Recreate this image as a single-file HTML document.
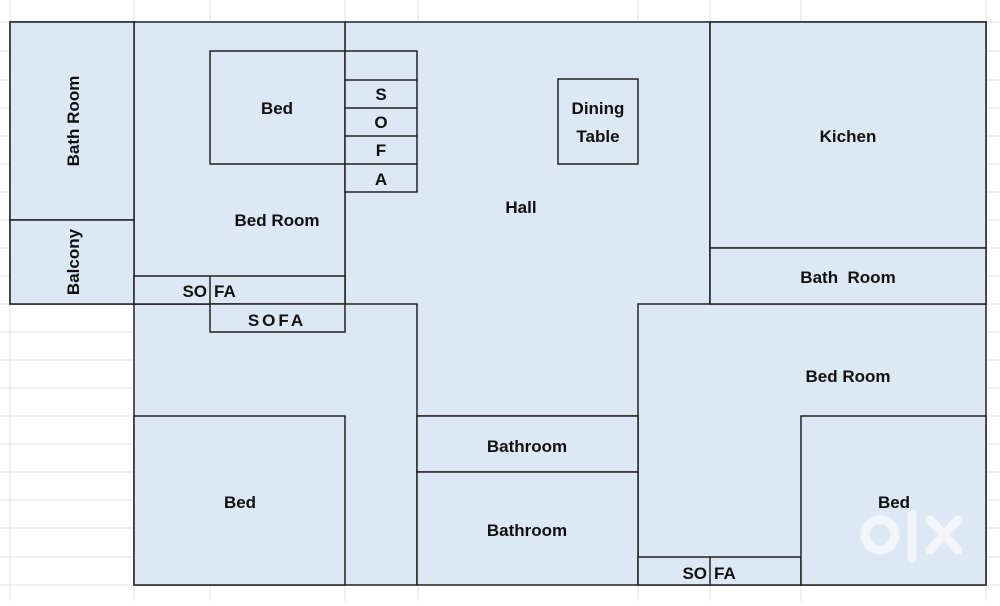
<!DOCTYPE html>
<html><head><style>
body{margin:0;background:#fff}
svg text{font-family:"Liberation Sans",sans-serif;font-weight:bold;font-size:17px;fill:#111}
</style></head><body>
<svg width="1000" height="601" viewBox="0 0 1000 601" xmlns="http://www.w3.org/2000/svg">
<g stroke="#e2e2e2" stroke-width="1">
<line x1="10" y1="0" x2="10" y2="601"/><line x1="134" y1="0" x2="134" y2="601"/><line x1="210" y1="0" x2="210" y2="601"/><line x1="345" y1="0" x2="345" y2="601"/><line x1="418" y1="0" x2="418" y2="601"/><line x1="638" y1="0" x2="638" y2="601"/><line x1="710" y1="0" x2="710" y2="601"/><line x1="801" y1="0" x2="801" y2="601"/><line x1="986" y1="0" x2="986" y2="601"/>
<line x1="0" y1="22" x2="1000" y2="22"/><line x1="0" y1="51" x2="1000" y2="51"/><line x1="0" y1="80" x2="1000" y2="80"/><line x1="0" y1="108" x2="1000" y2="108"/><line x1="0" y1="136" x2="1000" y2="136"/><line x1="0" y1="164" x2="1000" y2="164"/><line x1="0" y1="192" x2="1000" y2="192"/><line x1="0" y1="220" x2="1000" y2="220"/><line x1="0" y1="248" x2="1000" y2="248"/><line x1="0" y1="276" x2="1000" y2="276"/><line x1="0" y1="304" x2="1000" y2="304"/><line x1="0" y1="332" x2="1000" y2="332"/><line x1="0" y1="360" x2="1000" y2="360"/><line x1="0" y1="388" x2="1000" y2="388"/><line x1="0" y1="416" x2="1000" y2="416"/><line x1="0" y1="444" x2="1000" y2="444"/><line x1="0" y1="472" x2="1000" y2="472"/><line x1="0" y1="500" x2="1000" y2="500"/><line x1="0" y1="528" x2="1000" y2="528"/><line x1="0" y1="557" x2="1000" y2="557"/><line x1="0" y1="585" x2="1000" y2="585"/>
</g>
<g fill="#dce8f4" stroke="#222" stroke-width="1.5">
<rect x="10" y="22" width="124" height="282"/>
<rect x="345" y="22" width="365" height="394"/>
<rect x="134" y="304" width="283" height="281"/>
<rect x="710" y="22" width="276" height="282"/>
<rect x="638" y="304" width="348" height="281"/>
<rect x="134" y="22" width="211" height="282"/>
<rect x="10" y="22" width="124" height="198"/>
<rect x="10" y="220" width="124" height="84"/>
<rect x="134" y="276" width="211" height="28"/>
<rect x="210" y="51" width="135" height="113"/>
<rect x="345" y="51" width="72" height="141"/>
<rect x="210" y="304" width="135" height="28"/>
<rect x="558" y="79" width="80" height="85"/>
<rect x="134" y="416" width="211" height="169"/>
<rect x="417" y="416" width="221" height="56"/>
<rect x="417" y="472" width="221" height="113"/>
<rect x="710" y="22" width="276" height="226"/>
<rect x="710" y="248" width="276" height="56"/>
<rect x="638" y="557" width="163" height="28"/>
<rect x="801" y="416" width="185" height="169"/>
</g>
<g stroke="#222" stroke-width="1.5">
<line x1="345" y1="80" x2="417" y2="80"/><line x1="345" y1="108" x2="417" y2="108"/><line x1="345" y1="136" x2="417" y2="136"/><line x1="345" y1="164" x2="417" y2="164"/>
<line x1="210" y1="276" x2="210" y2="304"/><line x1="710" y1="557" x2="710" y2="585"/>
</g>
<g fill="#dce8f4"><rect x="346" y="193" width="71" height="110"/></g>
<text x="73" y="121" text-anchor="middle" transform="rotate(-90 73 121)" dy="6">Bath Room</text>
<text x="73" y="262" text-anchor="middle" transform="rotate(-90 73 262)" dy="6">Balcony</text>
<text x="277" y="114" text-anchor="middle">Bed</text>
<text x="277" y="226" text-anchor="middle">Bed Room</text>
<text x="381" y="100" text-anchor="middle">S</text>
<text x="381" y="128" text-anchor="middle">O</text>
<text x="381" y="156" text-anchor="middle">F</text>
<text x="381" y="185" text-anchor="middle">A</text>
<text x="207" y="297" text-anchor="end">SO</text>
<text x="214" y="297">FA</text>
<text x="277" y="326" text-anchor="middle" letter-spacing="3">SOFA</text>
<text x="598" y="114" text-anchor="middle">Dining</text>
<text x="598" y="142" text-anchor="middle">Table</text>
<text x="521" y="213" text-anchor="middle">Hall</text>
<text x="848" y="142" text-anchor="middle">Kichen</text>
<text x="848" y="283" text-anchor="middle">Bath&#160; Room</text>
<text x="848" y="382" text-anchor="middle">Bed Room</text>
<text x="527" y="452" text-anchor="middle">Bathroom</text>
<text x="527" y="536" text-anchor="middle">Bathroom</text>
<text x="240" y="508" text-anchor="middle">Bed</text>
<text x="894" y="508" text-anchor="middle">Bed</text>
<text x="707" y="579" text-anchor="end">SO</text>
<text x="714" y="579">FA</text>
<g fill="none" stroke="#f2f6fb" stroke-width="9" stroke-linecap="round">
<circle cx="880" cy="535" r="15"/><line x1="912" y1="515" x2="912" y2="558"/><line x1="930" y1="520" x2="958" y2="550"/><line x1="958" y1="520" x2="930" y2="550"/>
</g>
</svg>
</body></html>
